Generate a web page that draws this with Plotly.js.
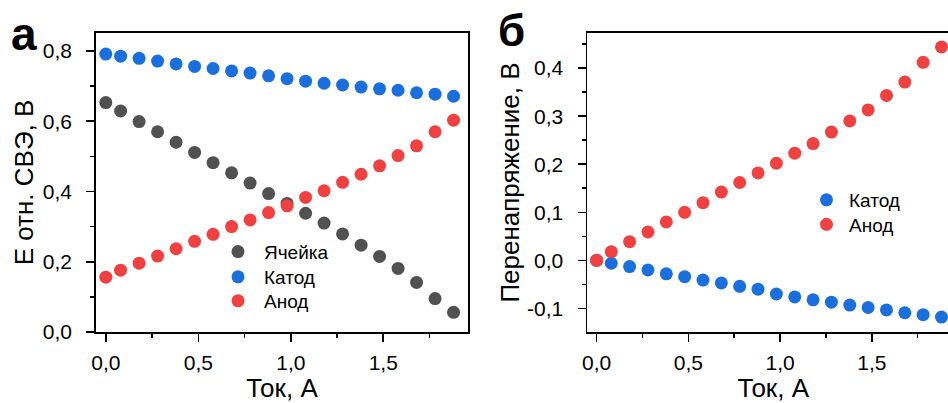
<!DOCTYPE html>
<html>
<head>
<meta charset="utf-8">
<script src="https://cdn.plot.ly/plotly-3.0.1.min.js"></script>
<style>
html, body { margin: 0; padding: 0; overflow: hidden; background: #fff; }
#chart { width: 970px; height: 403px; }
</style>
</head>
<body>
<div id="chart"></div>
<script>
// Data
const current = [0, 0.08, 0.18, 0.28, 0.38, 0.48, 0.58, 0.68, 0.78, 0.88, 0.98, 1.08, 1.18, 1.28, 1.38, 1.48, 1.58, 1.68, 1.78, 1.88];
const cellA = [0.653, 0.629, 0.599, 0.570, 0.540, 0.511, 0.482, 0.453, 0.424, 0.394, 0.366, 0.338, 0.310, 0.279, 0.247, 0.215, 0.181, 0.141, 0.095, 0.056];
const cathodeA = [0.791, 0.785, 0.779, 0.771, 0.763, 0.756, 0.750, 0.743, 0.737, 0.729, 0.721, 0.714, 0.708, 0.703, 0.697, 0.692, 0.688, 0.681, 0.677, 0.671];
const anodeA = [0.156, 0.176, 0.196, 0.216, 0.237, 0.258, 0.278, 0.300, 0.319, 0.340, 0.359, 0.383, 0.402, 0.426, 0.449, 0.473, 0.502, 0.530, 0.570, 0.603];
const cathodeB = [0, -0.006, -0.013, -0.020, -0.028, -0.034, -0.041, -0.047, -0.054, -0.060, -0.070, -0.076, -0.082, -0.087, -0.093, -0.098, -0.103, -0.109, -0.113, -0.118];
const anodeB = [0, 0.018, 0.039, 0.059, 0.080, 0.100, 0.120, 0.142, 0.162, 0.182, 0.202, 0.223, 0.243, 0.267, 0.290, 0.313, 0.343, 0.371, 0.412, 0.444];

const seriesNames = ['Ячейка', 'Катод', 'Анод'];
const xTickVals = [0, 0.5, 1.0, 1.5];
const xTickText = ['0,0', '0,5', '1,0', '1,5'];
const xMinorVals = [0.25, 0.75, 1.25, 1.75];
const yATickVals = [0, 0.2, 0.4, 0.6, 0.8];
const yATickText = ['0,0', '0,2', '0,4', '0,6', '0,8'];
const yAMinorVals = [0.1, 0.3, 0.5, 0.7];
const yBTickVals = [-0.1, 0, 0.1, 0.2, 0.3, 0.4];
const yBTickText = ['-0,1', '0,0', '0,1', '0,2', '0,3', '0,4'];
const yBMinorVals = [-0.05, 0.05, 0.15, 0.25, 0.35, 0.45];
const xTitle = 'Ток, А';
const yATitle = 'E отн. СВЭ, В';
const yBTitle = 'Перенапряжение, В';
const panelLabels = ['а', 'б'];

const W = 970, H = 403;
const FONT = 'Arial, "Liberation Sans", sans-serif';
const GRAY = '#515151', RED = '#F14040', BLUE = '#1A6FDF';
const MS = 13;

function px(x) { return x / W; }
function py(y) { return (H - y) / H; }

const traces = [
  {x: current, y: cellA, name: seriesNames[0], type: 'scatter', mode: 'markers',
   marker: {color: GRAY, size: MS}, xaxis: 'x', yaxis: 'y', legend: 'legend'},
  {x: current, y: cathodeA, name: seriesNames[1], type: 'scatter', mode: 'markers',
   marker: {color: BLUE, size: MS}, xaxis: 'x', yaxis: 'y', legend: 'legend2'},
  {x: current, y: anodeA, name: seriesNames[2], type: 'scatter', mode: 'markers',
   marker: {color: RED, size: MS}, xaxis: 'x', yaxis: 'y', legend: 'legend3'},
  {x: current, y: cathodeB, name: seriesNames[1], type: 'scatter', mode: 'markers',
   marker: {color: BLUE, size: MS}, xaxis: 'x2', yaxis: 'y2', legend: 'legend4'},
  {x: current, y: anodeB, name: seriesNames[2], type: 'scatter', mode: 'markers',
   marker: {color: RED, size: MS}, xaxis: 'x2', yaxis: 'y2', legend: 'legend5'}
];

const axisCommon = {
  showline: true, linecolor: '#000', linewidth: 1.8, mirror: true,
  showgrid: false, zeroline: false,
  ticks: 'outside', ticklen: 8, tickwidth: 1.6, tickcolor: '#000',
  tickfont: {family: FONT, size: 21, color: '#000'},
  tickmode: 'array'
};
const minorCommon = {ticks: 'outside', ticklen: 4, tickwidth: 1.6, tickcolor: '#000', showgrid: false};

const yDomain = [py(332), py(33)];

function leg(xMarker, yRow, iw) {
  return {
    x: px(xMarker - iw / 2 - 5), y: py(yRow), xanchor: 'left', yanchor: 'middle',
    bgcolor: 'rgba(0,0,0,0)', borderwidth: 0, itemwidth: iw,
    font: {family: FONT, size: 19, color: '#000'},
    tracegroupgap: 0, itemclick: false
  };
}

const xTitleObj = {text: xTitle, standoff: 4, font: {family: FONT, size: 26, color: '#000'}};

const layout = {
  width: W, height: H,
  margin: {l: 0, r: 0, t: 0, b: 0},
  paper_bgcolor: '#fff', plot_bgcolor: '#fff',
  font: {family: FONT, color: '#000'},
  showlegend: true,
  xaxis: Object.assign({}, axisCommon, {
    domain: [px(96), px(468)], range: [-0.053, 1.958], anchor: 'y',
    tickvals: xTickVals, ticktext: xTickText, ticklabelstandoff: 3,
    minor: Object.assign({tickvals: xMinorVals}, minorCommon),
    title: xTitleObj
  }),
  yaxis: Object.assign({}, axisCommon, {
    domain: yDomain, range: [0, 0.851], anchor: 'x',
    tickvals: yATickVals, ticktext: yATickText, ticklabelstandoff: 10,
    minor: Object.assign({tickvals: yAMinorVals}, minorCommon),
    title: {text: yATitle, font: {family: FONT, size: 26, color: '#000'}}
  }),
  xaxis2: Object.assign({}, axisCommon, {
    domain: [px(587.3), px(959.3)], range: [-0.0507, 1.977], anchor: 'y2',
    tickvals: xTickVals, ticktext: xTickText, ticklabelstandoff: 3,
    minor: Object.assign({tickvals: xMinorVals}, minorCommon),
    title: xTitleObj
  }),
  yaxis2: Object.assign({}, axisCommon, {
    domain: yDomain, range: [-0.149, 0.473], anchor: 'x2',
    tickvals: yBTickVals, ticktext: yBTickText, ticklabelstandoff: 10,
    minor: Object.assign({tickvals: yBMinorVals}, minorCommon),
    title: {text: yBTitle, font: {family: FONT, size: 26, color: '#000'}}
  }),
  legend: leg(238, 251.7, 42),
  legend2: leg(238, 277, 42),
  legend3: leg(238, 301, 42),
  legend4: leg(826.5, 200, 35),
  legend5: leg(826.5, 224.5, 35),
  annotations: [
    {text: '<b>' + panelLabels[0] + '</b>', xref: 'paper', yref: 'paper',
     x: px(9), y: py(34), xanchor: 'left', yanchor: 'middle', showarrow: false,
     font: {family: FONT, size: 46, color: '#000'}},
    {text: '<b>' + panelLabels[1] + '</b>', xref: 'paper', yref: 'paper',
     x: px(496), y: py(30), xanchor: 'left', yanchor: 'middle', showarrow: false,
     font: {family: FONT, size: 44, color: '#000'}}
  ]
};

Plotly.newPlot('chart', traces, layout, {staticPlot: true, displayModeBar: false});
</script>
</body>
</html>
